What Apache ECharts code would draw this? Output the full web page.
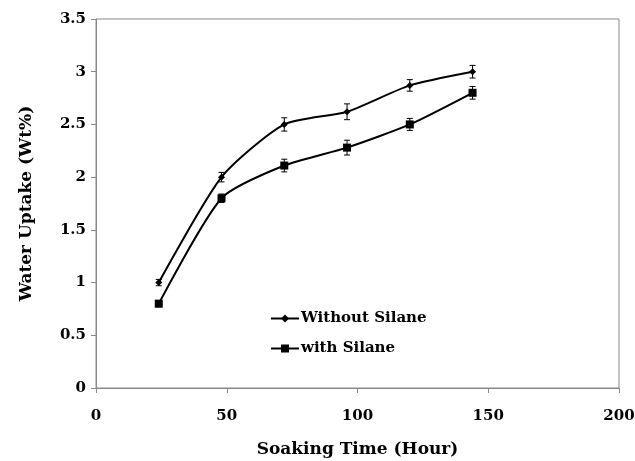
<!DOCTYPE html>
<html>
<head>
<meta charset="utf-8">
<script src="https://cdn.jsdelivr.net/npm/echarts@6/dist/echarts.min.js"></script>
<style>html,body{margin:0;padding:0;background:#fff}#c{width:635px;height:461px}</style>
</head>
<body>
<div id="c"></div>
<script>
var hours = [24, 48, 72, 96, 120, 144];
var withoutSilane = [1.0, 2.0, 2.5, 2.62, 2.87, 3.0];
var withoutSilaneErr = [0.03, 0.045, 0.063, 0.075, 0.055, 0.06];
var withSilane = [0.8, 1.8, 2.11, 2.28, 2.5, 2.8];
var withSilaneErr = [0.03, 0.04, 0.06, 0.07, 0.057, 0.06];
var seriesNames = ['Without Silane', 'with Silane'];

var FONT = 'DejaVu Serif';
function pairs(xs, ys) { return xs.map(function (x, i) { return [x, ys[i]]; }); }
function errData(xs, ys, es) { return xs.map(function (x, i) { return [x, ys[i] - es[i], ys[i] + es[i]]; }); }
function errSeries(data) {
  return {
    type: 'custom', silent: true, z: 3,
    data: data,
    renderItem: function (params, api) {
      var lo = api.coord([api.value(0), api.value(1)]);
      var hi = api.coord([api.value(0), api.value(2)]);
      var w = 3;
      var st = { stroke: '#000', lineWidth: 1 };
      return { type: 'group', children: [
        { type: 'line', shape: { x1: lo[0], y1: lo[1], x2: hi[0], y2: hi[1] }, style: st },
        { type: 'line', shape: { x1: lo[0] - w, y1: lo[1], x2: lo[0] + w, y2: lo[1] }, style: st },
        { type: 'line', shape: { x1: hi[0] - w, y1: hi[1], x2: hi[0] + w, y2: hi[1] }, style: st }
      ]};
    }
  };
}

var chart = echarts.init(document.getElementById('c'));
chart.setOption({
  animation: false,
  backgroundColor: '#fff',
  grid: { left: 96, right: 16, top: 19, bottom: 73, show: true, borderColor: '#888', borderWidth: 1,
          containLabel: false, outerBoundsMode: 'none' },
  legend: {
    left: 270, top: 311, orient: 'vertical', itemGap: 15, itemWidth: 28, itemHeight: 10,
    padding: 0,
    data: seriesNames,
    textStyle: { fontFamily: FONT, fontWeight: 'bold', fontSize: 15, color: '#000', padding: [0, 0, 0, -3] }
  },
  xAxis: {
    type: 'value', min: 0, max: 200, interval: 50,
    name: 'Soaking Time (Hour)', nameLocation: 'middle', nameGap: 53,
    nameTextStyle: { fontFamily: FONT, fontWeight: 'bold', fontSize: 17, color: '#000' },
    axisLine: { lineStyle: { color: '#888' } },
    axisTick: { show: true, length: 5, lineStyle: { color: '#888' } },
    axisLabel: { margin: 21, fontFamily: FONT, fontWeight: 'bold', fontSize: 15, color: '#000' },
    splitLine: { show: false }
  },
  yAxis: {
    type: 'value', min: 0, max: 3.5, interval: 0.5,
    name: 'Water Uptake (Wt%)', nameLocation: 'middle', nameGap: 61,
    nameTextStyle: { fontFamily: FONT, fontWeight: 'bold', fontSize: 17, color: '#000' },
    axisLine: { lineStyle: { color: '#888' } },
    axisTick: { show: true, length: 5, lineStyle: { color: '#888' } },
    axisLabel: { margin: 10, fontFamily: FONT, fontWeight: 'bold', fontSize: 15, color: '#000' },
    splitLine: { show: false }
  },
  series: [
    { name: seriesNames[0], type: 'line', smooth: 0.22, data: pairs(hours, withoutSilane),
      symbol: 'diamond', symbolSize: 7, z: 4,
      lineStyle: { color: '#000', width: 2 }, itemStyle: { color: '#000' } },
    { name: seriesNames[1], type: 'line', smooth: 0.22, data: pairs(hours, withSilane),
      symbol: 'rect', symbolSize: 8, z: 4,
      lineStyle: { color: '#000', width: 2 }, itemStyle: { color: '#000' } },
    errSeries(errData(hours, withoutSilane, withoutSilaneErr)),
    errSeries(errData(hours, withSilane, withSilaneErr))
  ]
});
</script>
</body>
</html>
